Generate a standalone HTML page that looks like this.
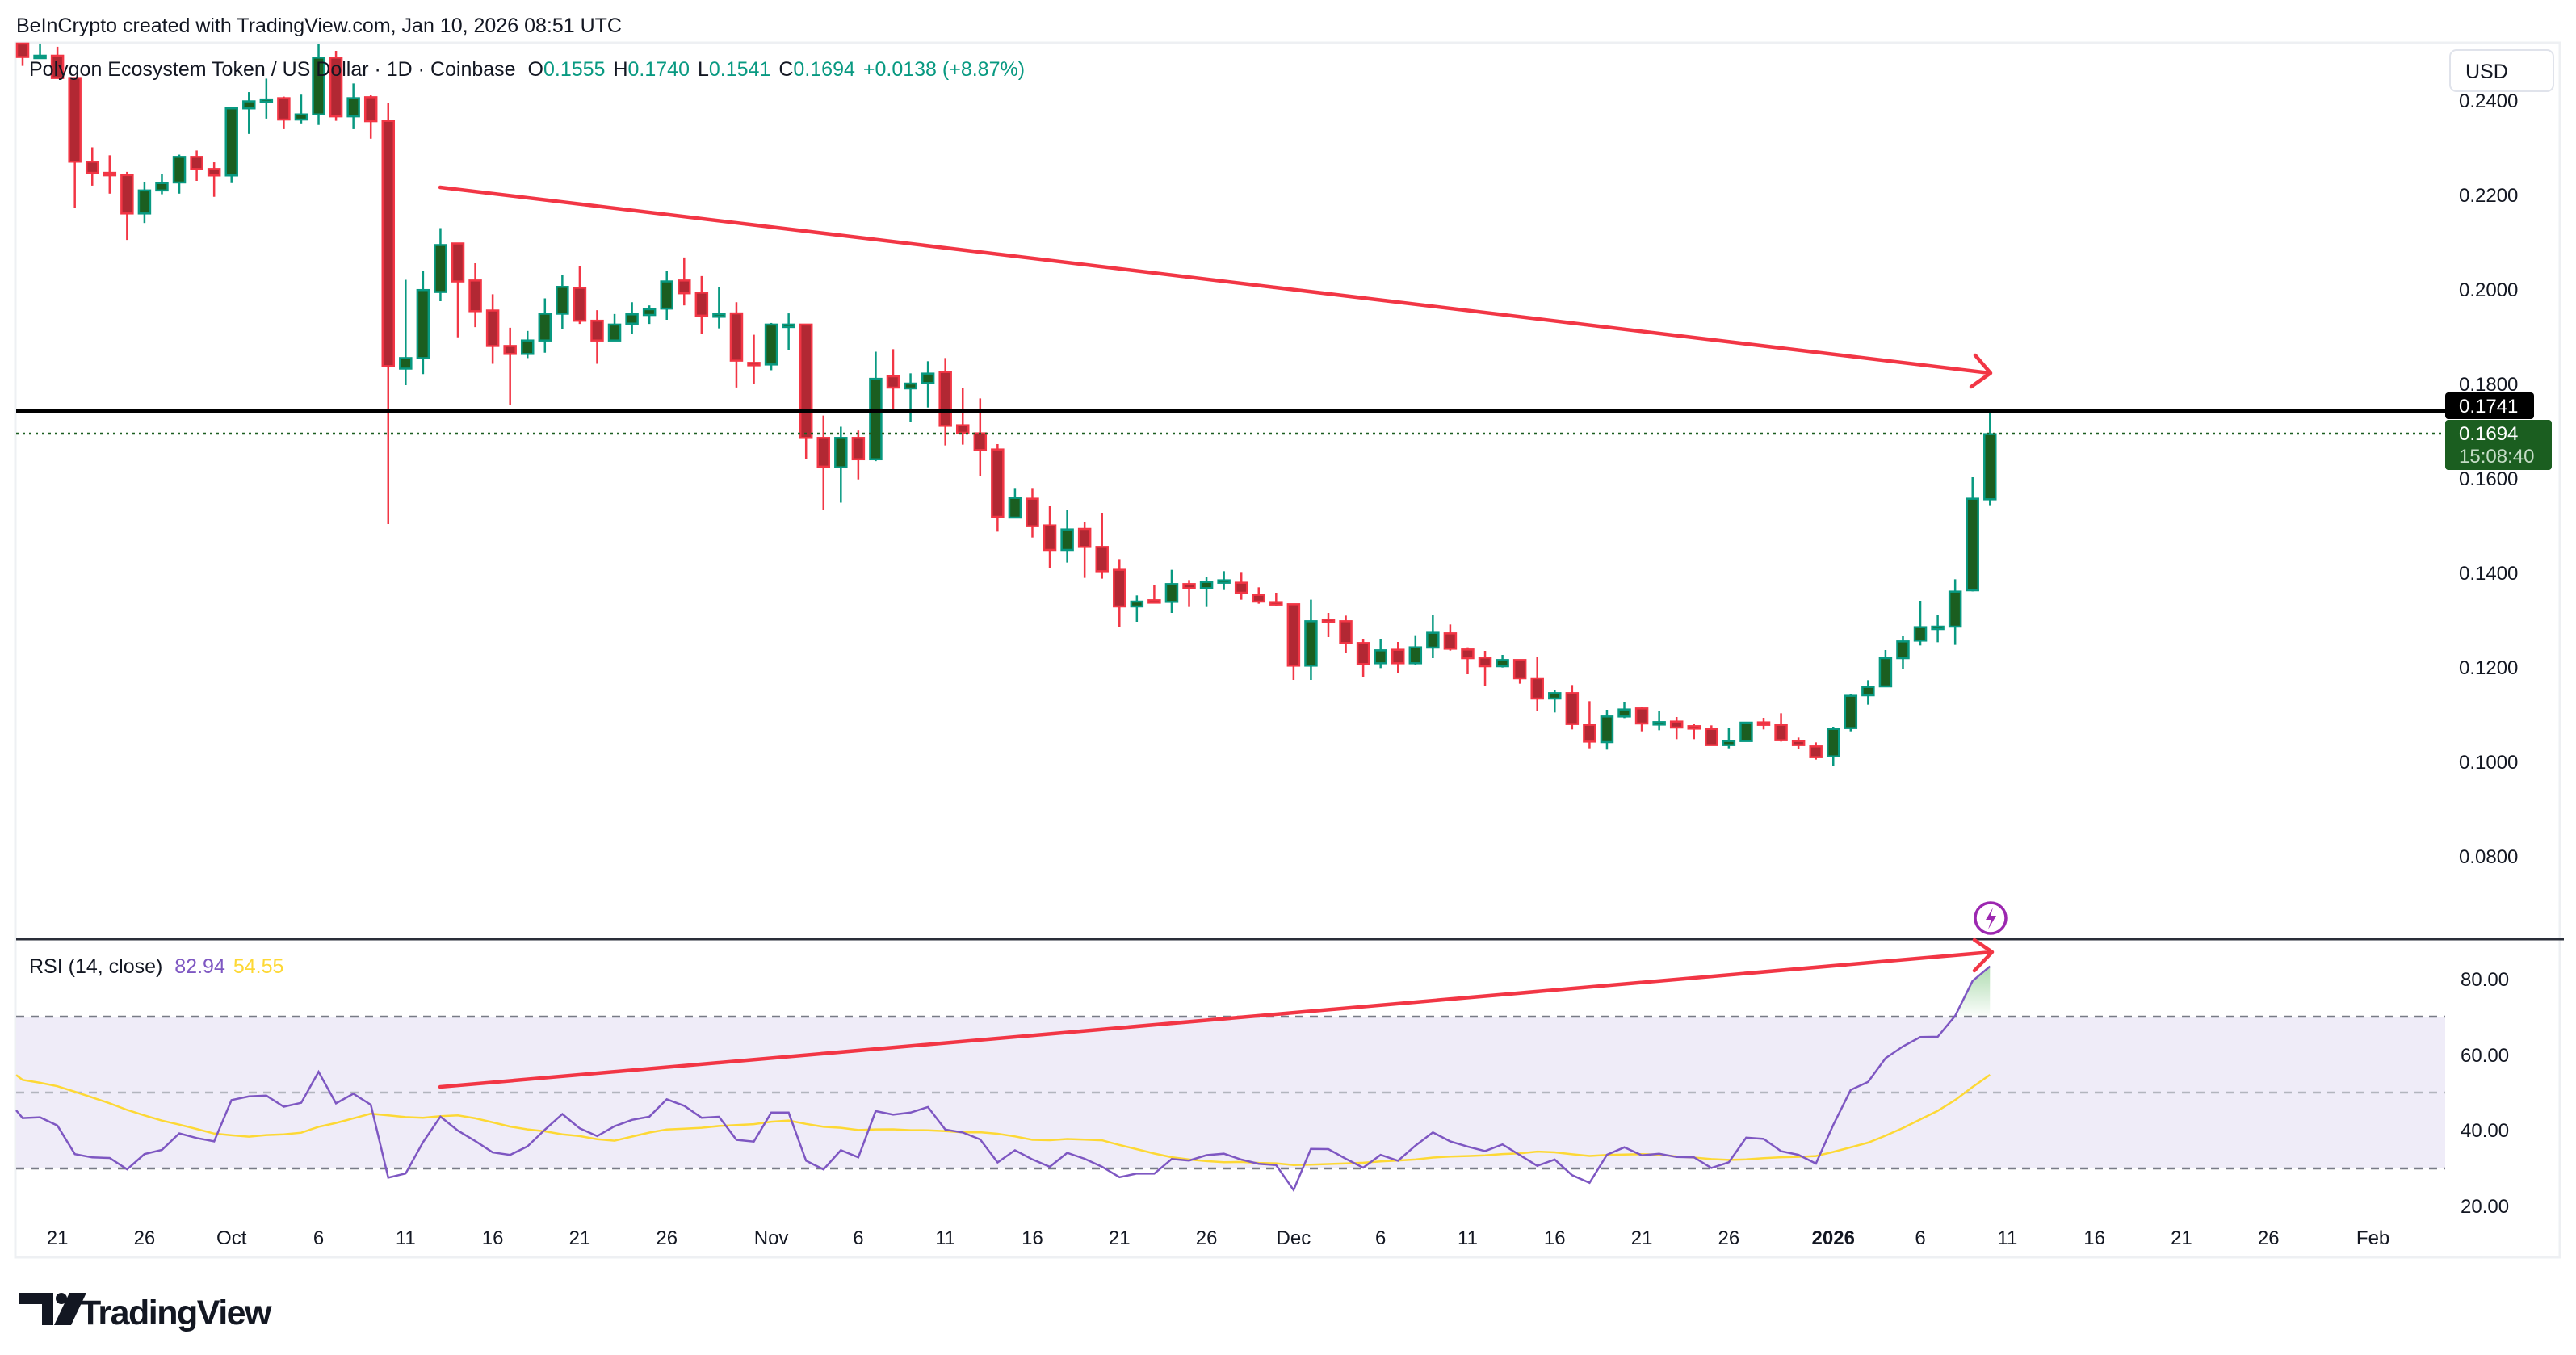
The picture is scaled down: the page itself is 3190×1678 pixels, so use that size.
<!DOCTYPE html>
<html><head><meta charset="utf-8">
<style>
html,body{margin:0;padding:0;background:#fff;}
body{width:3190px;height:1678px;overflow:hidden;position:relative;font-family:"Liberation Sans",sans-serif;}
svg{position:absolute;left:0;top:0;}
</style></head>
<body>
<svg id="s" width="3190" height="1678" viewBox="0 0 3190 1678" xmlns="http://www.w3.org/2000/svg">
<rect x="0" y="0" width="3190" height="1678" fill="#fff"/>
<rect x="19" y="53" width="3151" height="1504" fill="none" stroke="#eef0f3" stroke-width="3"/>
<text x="20" y="40" font-size="25" fill="#131722" font-family="Liberation Sans, sans-serif">BeInCrypto created with TradingView.com, Jan 10, 2026 08:51 UTC</text>
<rect x="20" y="1259" width="3008" height="188" fill="#efecf8"/>
<line x1="20" y1="1259" x2="3028" y2="1259" stroke="#787b86" stroke-width="2.5" stroke-dasharray="10,8"/>
<line x1="20" y1="1353" x2="3028" y2="1353" stroke="#b2b5be" stroke-width="2.5" stroke-dasharray="10,8"/>
<line x1="20" y1="1447" x2="3028" y2="1447" stroke="#787b86" stroke-width="2.5" stroke-dasharray="10,8"/>
<line x1="20" y1="1163" x2="3175" y2="1163" stroke="#2a2e39" stroke-width="3"/>
<g id="cand"></g>
<g id="rsi"></g>
<line x1="20" y1="537" x2="3028" y2="537" stroke="#1b5e20" stroke-width="2.5" stroke-dasharray="3,5"/>
<line x1="20" y1="509" x2="3028" y2="509" stroke="#000" stroke-width="4.5"/>
<g stroke="#f23645" stroke-width="4.5" fill="none" stroke-linecap="round" stroke-linejoin="round">
<line x1="545" y1="232" x2="2464" y2="462"/>
<polyline points="2446,440 2465,462 2441,479"/>
<line x1="545" y1="1346" x2="2466" y2="1179"/>
<polyline points="2445,1164 2467,1179 2445,1202"/>
</g>
<g>
<ellipse cx="2465" cy="1137" rx="19" ry="19" fill="#fff" stroke="#9c27b0" stroke-width="3.5"/>
<path d="M2468,1124 L2459,1139 L2466,1139 L2462,1151 L2472,1134 L2465,1134 Z" fill="#9c27b0"/>
</g>
<text x="36" y="94" font-size="25" fill="#131722">Polygon Ecosystem Token / US Dollar · 1D · Coinbase <tspan dx="8">O</tspan><tspan fill="#089981">0.1555</tspan><tspan dx="10">H</tspan><tspan fill="#089981">0.1740</tspan><tspan dx="10">L</tspan><tspan fill="#089981">0.1541</tspan><tspan dx="10">C</tspan><tspan fill="#089981">0.1694</tspan><tspan dx="10" fill="#089981">+0.0138 (+8.87%)</tspan></text>
<text x="36" y="1205" font-size="25" fill="#131722">RSI (14, close) <tspan dx="8" fill="#7e57c2">82.94</tspan><tspan dx="10" fill="#fdd835">54.55</tspan></text>
<rect x="3034" y="62" width="128" height="51" rx="8" fill="#fff" stroke="#e0e3eb" stroke-width="2"/>
<text x="3053" y="97" font-size="25" fill="#131722">USD</text>
<g id="axis" font-size="24" fill="#131722"></g>
<rect x="3028" y="486" width="110" height="33" rx="4" fill="#000"/>
<text x="3045" y="511" font-size="24" fill="#fff">0.1741</text>
<rect x="3028" y="520" width="132" height="62" rx="4" fill="#1b5e20"/>
<text x="3045" y="545" font-size="24" fill="#fff">0.1694</text>
<text x="3045" y="573" font-size="24" fill="#c5dcc6">15:08:40</text>
<g fill="#131722">
<path d="M24,1601 h42 v40 h-14 v-26 h-28 z"/>
<circle cx="76" cy="1608" r="7"/>
<path d="M86,1601 h21 l-19,40 h-21 z"/>
</g>
<text x="99" y="1640" font-size="43" font-weight="bold" fill="#131722" letter-spacing="-1.5">TradingView</text>
</svg>
<script>
(function(){
var NS="http://www.w3.org/2000/svg";
function el(tag,attrs,parent,txt){var e=document.createElementNS(NS,tag);for(var k in attrs)e.setAttribute(k,attrs[k]);if(txt!=null)e.textContent=txt;parent.appendChild(e);return e;}
var A=[[10,52,10,80],[48,48,10,50],[48,118,20,118],[118,380,118,525],[380,415,335,455],[415,419,360,480],[422,542,412,625],[542,470,445,572],[470,447,418,482],[445,365,358,480],[365,403,345,440],[403,423,382,490],[423,213,213,447],[213,191,162,293],[190,185,120,245],[181,248,176,278],[248,232,170,260],[232,54,10,265],[54,238,33,252],[238,181,135,278],[178,253,172,308],[252,1020,195,1515],[1028,995,750,1080],[995,782,722,1045],[788,641,588,817],[636,755,636,930],[752,848,698,898],[846,957,795,1013],[957,982,900,1142],[982,940,910,995],[940,856,808,978],[856,772,736,905],[775,878,708,888],[878,940,845,1013],[940,890,857,942],[887,858,820,920],[860,842,830,888],[840,755,722,875],[752,792,680,830],[790,862,738,918],[865,858,773,902],[855,1003,820,1087],[1010,1015,922,1077],[1015,890,885,1033],[890,890,855,970],[890,1245,890,1310],[1245,1335,1175,1472],[1337,1245,1210,1448],[1245,1312,1222,1375],[1312,1060,975,1318]];
var B=[[258,300,157,378],[303,285,247,428],[283,248,202,374],[242,442,190,515],[440,468,303,512],[470,532,340,627],[530,780,510,835],[783,710,673,785],[713,815,673,857],[812,903,738,972],[903,827,753,950],[825,892,801,1007],[892,982,765,1010],[977,1113,937,1190],[1113,1095,1072,1170],[1090,1096,1035,1096],[1096,1030,977,1137],[1030,1045,1015,1115],[1045,1022,1002,1115],[1017,1016,982,1052],[1025,1062,985,1088],[1070,1095,1042,1103],[1097,1105,1062,1110],[1105,1333,1105,1386],[1333,1168,1088,1386],[1162,1170,1137,1227],[1168,1249,1147,1287],[1249,1327,1233,1374],[1324,1276,1233,1342],[1274,1324,1245,1359],[1324,1265,1220,1330],[1266,1211,1146,1305],[1213,1270,1180,1277],[1273,1305,1265,1365],[1303,1335,1278,1407]];
var C=[[1035,1012,993,1040],[1012,1080,1010,1100],[1080,1155,1002,1202],[1155,1135,1125,1207],[1135,1250,1105,1270],[1253,1315,1165,1340],[1317,1222,1197,1345],[1222,1196,1167,1228],[1192,1248,1188,1277],[1245,1243,1200,1273],[1241,1263,1224,1306],[1258,1265,1248,1306],[1268,1328,1255,1328],[1328,1313,1263,1340],[1313,1245,1245,1315],[1244,1251,1227,1270],[1253,1310,1210,1315],[1313,1328,1300,1342],[1333,1373,1318,1382],[1370,1268,1260,1405],[1265,1145,1138,1277],[1143,1112,1087,1178],[1110,1005,975,1110],[1005,943,922,1045],[940,890,792,958],[890,888,843,946],[888,758,712,956],[753,413,333,757],[415,173,90,437]];
var D=[];
A.forEach(function(r){D.push(r.map(function(v){return 50+v/2.529;}));});
B.forEach(function(r){D.push(r.map(function(v){return 380+v/3;}));});
C.forEach(function(r){D.push(r.map(function(v){return 480+v/3;}));});
function X(i){return 28+21.56*i;}
var g=document.getElementById('cand');
D.forEach(function(d,i){
  var o=d[0],c=d[1],h=d[2],l=d[3],x=X(i);
  var up=c<=o; var bc=up?'#089981':'#f23645', fc=up?'#1b5e20':'#b22833';
  var top=Math.min(o,c),bot=Math.max(o,c);
  h=Math.min(h,top);l=Math.max(l,bot);
  el('line',{x1:x,y1:h,x2:x,y2:l,stroke:bc,'stroke-width':2.5},g);
  var hh=Math.max(bot-top,3);
  el('rect',{x:x-7,y:top,width:14,height:hh,fill:fc,stroke:bc,'stroke-width':2.5},g);
});
var T=[713,710,740,843,855,857,898,843,828,768,785,797,648,635,632,672,658,546,660,625,665,928,913,800];
var tr=T.map(function(z){var y=1140+z/2.915;return 80-(y-1212)/4.68;});
var cl=D.map(function(d){return -d[1];});
var m=0;for(var i=1;i<45;i++)m+=Math.abs(cl[i]-cl[i-1]);m/=44;
var n=14,K=tr.length-1;
var r0=tr[K]/100, ag=m*r0, al=m*(1-r0);
var rsi=tr.slice();
for(var i=K+1;i<cl.length;i++){
  var ch=cl[i]-cl[i-1];var gg=ch>0?ch:0,ll=ch<0?-ch:0;ag=(ag*(n-1)+gg)/n;al=(al*(n-1)+ll)/n;
  rsi.push(100-100/(1+ag/(al||1e-9)));
}
var ma=[];
for(var i=0;i<rsi.length;i++){var s=0,k=0;for(var j=i-13;j<=i;j++){s+= j>=0?rsi[j]:54;k++;}ma.push(s/k);}
function RY(v){return 1212+(80-v)*4.68;}
var rg=document.getElementById('rsi');
var defs=el('defs',{},rg);var lg=el('linearGradient',{id:'gf',x1:0,y1:0,x2:0,y2:1},defs);
el('stop',{offset:'0','stop-color':'#4caf50','stop-opacity':'0.45'},lg);el('stop',{offset:'1','stop-color':'#4caf50','stop-opacity':'0.02'},lg);
var start=-1;
for(var i=1;i<rsi.length;i++){ if(rsi[i]>70 && rsi[i-1]<=70){start=i;} }
if(start>0){
  var t=(70-rsi[start-1])/(rsi[start]-rsi[start-1]);var xs=X(start-1)+t*21.56;
  var p='M'+xs+','+RY(70);
  for(var i=start;i<rsi.length;i++)p+=' L'+X(i)+','+RY(rsi[i]);
  p+=' L'+X(rsi.length-1)+','+RY(70)+' Z';
  el('path',{d:p,fill:'url(#gf)'},rg);
}
var mp=ma.map(function(v,i){return X(i).toFixed(1)+','+RY(v).toFixed(1);});
mp.unshift('20,'+RY(54.5).toFixed(1));
el('polyline',{points:mp.join(' '),fill:'none',stroke:'#fdd835','stroke-width':2.5},rg);
var pts=rsi.map(function(v,i){return X(i).toFixed(1)+','+RY(v).toFixed(1);});
pts.unshift('20,'+(1140+685/2.915).toFixed(1));
el('polyline',{points:pts.join(' '),fill:'none',stroke:'#7e57c2','stroke-width':2.5},rg);
var ax=document.getElementById('axis');
[[0.24,124],[0.22,241],[0.20,358],[0.18,475],[0.16,592],[0.14,709],[0.12,826],[0.10,943],[0.08,1060]].forEach(function(a){el('text',{x:3045,y:a[1]+9},ax,a[0].toFixed(4));});
[[80,1212],[60,1306],[40,1399],[20,1493]].forEach(function(a){el('text',{x:3047,y:a[1]+9},ax,a[0].toFixed(2));});
var tl=[['21',2],['26',7],['Oct',12],['6',17],['11',22],['16',27],['21',32],['26',37],['Nov',43],['6',48],['11',53],['16',58],['21',63],['26',68],['Dec',73],['6',78],['11',83],['16',88],['21',93],['26',98],['2026',104],['6',109],['11',114],['16',119],['21',124],['26',129],['Feb',135]];
tl.forEach(function(t){var a={x:X(t[1]),y:1541,'text-anchor':'middle'};if(t[0]==='2026')a['font-weight']='bold';el('text',a,ax,t[0]);});
})();
</script>
</body></html>
